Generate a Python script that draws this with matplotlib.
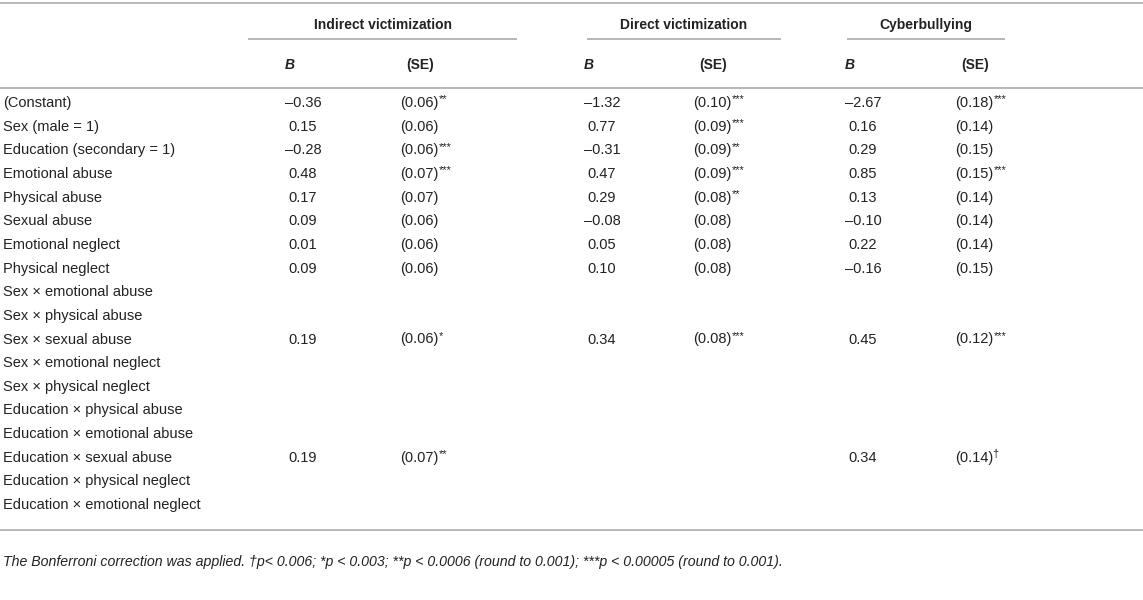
import matplotlib
matplotlib.use("Agg")
import matplotlib.pyplot as plt

plt.rcParams["font.family"] = ["Liberation Sans", "DejaVu Sans"]

# DATA
row_labels = [
    "(Constant)",
    "Sex (male = 1)",
    "Education (secondary = 1)",
    "Emotional abuse",
    "Physical abuse",
    "Sexual abuse",
    "Emotional neglect",
    "Physical neglect",
    "Sex × emotional abuse",
    "Sex × physical abuse",
    "Sex × sexual abuse",
    "Sex × emotional neglect",
    "Sex × physical neglect",
    "Education × physical abuse",
    "Education × emotional abuse",
    "Education × sexual abuse",
    "Education × physical neglect",
    "Education × emotional neglect",
]

groups = ["Indirect victimization", "Direct victimization", "Cyberbullying"]

indirect_b = [-0.36, 0.15, -0.28, 0.48, 0.17, 0.09, 0.01, 0.09, None, None,
              0.19, None, None, None, None, 0.19, None, None]
indirect_se = [0.06, 0.06, 0.06, 0.07, 0.07, 0.06, 0.06, 0.06, None, None,
               0.06, None, None, None, None, 0.07, None, None]
indirect_sig = ["**", "", "***", "***", "", "", "", "", "", "",
                "*", "", "", "", "", "**", "", ""]

direct_b = [-1.32, 0.77, -0.31, 0.47, 0.29, -0.08, 0.05, 0.10, None, None,
            0.34, None, None, None, None, None, None, None]
direct_se = [0.10, 0.09, 0.09, 0.09, 0.08, 0.08, 0.08, 0.08, None, None,
             0.08, None, None, None, None, None, None, None]
direct_sig = ["***", "***", "**", "***", "**", "", "", "", "", "",
              "***", "", "", "", "", "", "", ""]

cyber_b = [-2.67, 0.16, 0.29, 0.85, 0.13, -0.10, 0.22, -0.16, None, None,
           0.45, None, None, None, None, 0.34, None, None]
cyber_se = [0.18, 0.14, 0.15, 0.15, 0.14, 0.14, 0.14, 0.15, None, None,
            0.12, None, None, None, None, 0.14, None, None]
cyber_sig = ["***", "", "", "***", "", "", "", "", "", "",
             "***", "", "", "", "", "†", "", ""]

footnote = ("The Bonferroni correction was applied. †p< 0.006; *p < 0.003; "
            "**p < 0.0006 (round to 0.001); ***p < 0.00005 (round to 0.001).")

# LAYOUT (pixels)
W, H = 1143, 600
b_centers = [303, 602, 863]
se_lefts = [400, 693, 955]
underlines = [(248, 517), (587, 781), (847, 1005)]
row_y0, row_dy = 103, 23.65
fs = 10.5
fs_head = 10
line_col = "#b8b8b8"
txt_col = "#222222"


def fmt(v):
    s = f"{abs(v):.2f}"
    return "–" + s if v < 0 else s


fig = plt.figure(figsize=(W / 100, H / 100), dpi=100)
ax = fig.add_axes([0, 0, 1, 1])
ax.set_xlim(0, W)
ax.set_ylim(H, 0)
ax.axis("off")
renderer = fig.canvas.get_renderer()

# rules
for y in [3, 88, 530]:
    ax.plot([0, W], [y, y], color=line_col, lw=1.4, solid_capstyle="butt")

for (x0, x1), name in zip(underlines, groups):
    ax.plot([x0, x1], [39, 39], color=line_col, lw=1.4, solid_capstyle="butt")
    ax.text((x0 + x1) / 2, 25, name, ha="center", va="center",
            fontsize=fs_head, fontweight="bold", color=txt_col)

for bc, sl in zip(b_centers, se_lefts):
    ax.text(bc - 13, 65, "B", ha="center", va="center", fontsize=fs_head,
            fontweight="bold", fontstyle="italic", color=txt_col)
    ax.text(sl + 20, 65, "(SE)", ha="center", va="center", fontsize=fs_head,
            fontweight="bold", color=txt_col)

inv = ax.transData.inverted()
cols = [(indirect_b, indirect_se, indirect_sig),
        (direct_b, direct_se, direct_sig),
        (cyber_b, cyber_se, cyber_sig)]

for i, label in enumerate(row_labels):
    y = row_y0 + i * row_dy
    ax.text(3, y, label, ha="left", va="center", fontsize=fs, color=txt_col)
    for (bs, ses, sigs), bc, sl in zip(cols, b_centers, se_lefts):
        if bs[i] is not None:
            ax.text(bc, y, fmt(bs[i]), ha="center", va="center",
                    fontsize=fs, color=txt_col)
        if ses[i] is not None:
            t = ax.text(sl, y, f"({ses[i]:.2f})", ha="left", va="center",
                        fontsize=fs, color=txt_col)
            if sigs[i]:
                bb = t.get_window_extent(renderer)
                xr = inv.transform((bb.x1, bb.y1))[0]
                # dagger glyph carries its own side bearing
                dx = -1.5 if sigs[i] == "†" else 0.5
                ax.text(xr + dx, y - 3.5, sigs[i], ha="left", va="center",
                        fontsize=fs * 0.75, color=txt_col)

ax.text(3, 562, footnote, ha="left", va="center", fontsize=10.2,
        fontstyle="italic", color=txt_col)

fig.savefig("out.png", dpi=100)
